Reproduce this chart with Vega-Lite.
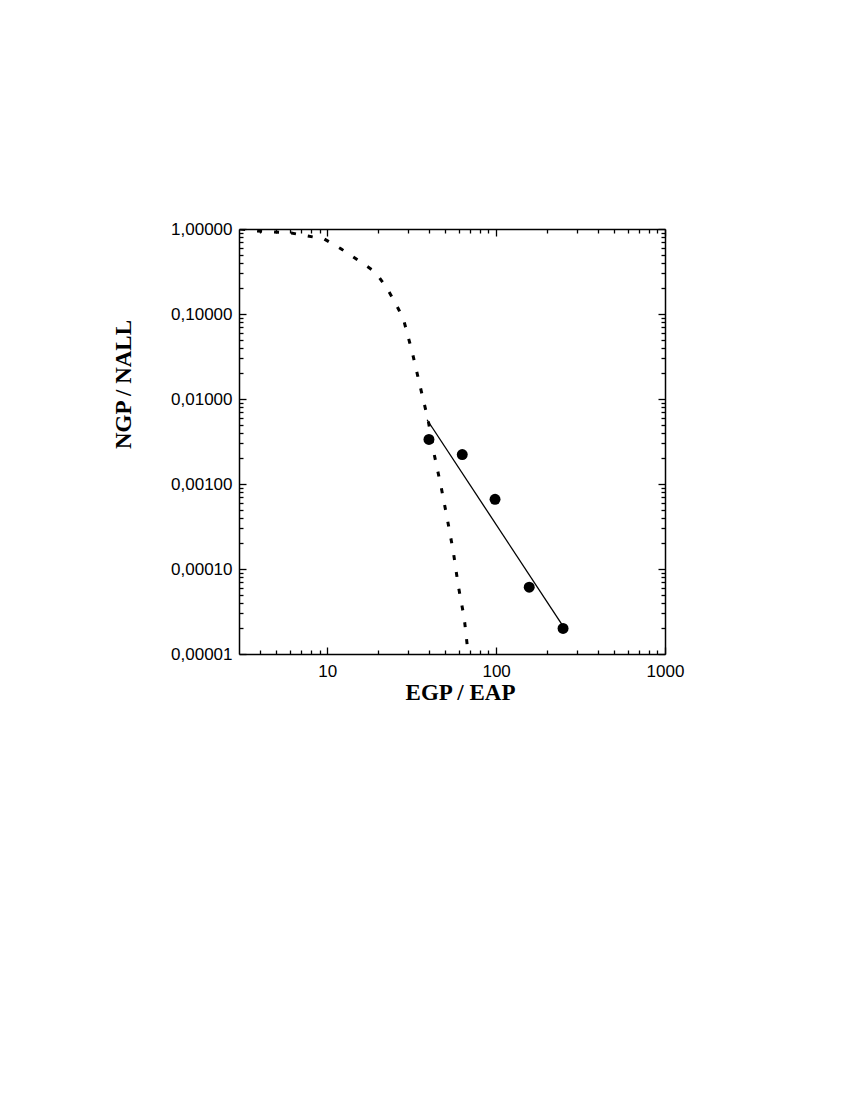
{
  "$schema": "https://vega.github.io/schema/vega-lite/v6.json",
  "autosize": {"type": "none"},
  "padding": {"left": 239, "top": 229, "right": 185, "bottom": 446},
  "width": 426,
  "height": 425,
  "background": "white",
  "config": {
    "view": {"stroke": null},
    "axis": {
      "domainColor": "black",
      "domainWidth": 1.5,
      "tickColor": "black",
      "tickWidth": 1.3,
      "grid": false,
      "labelFont": "Liberation Sans",
      "labelFontSize": 17,
      "labelColor": "black",
      "labelOverlap": false,
      "labelBound": false,
      "labelFlush": false,
      "titleFont": "Liberation Serif",
      "titleFontWeight": "bold",
      "titleFontSize": 23,
      "titleColor": "black"
    }
  },
  "datasets": {
    "points": [
      {"x": 40, "y": 0.00334},
      {"x": 63, "y": 0.00222},
      {"x": 98.5, "y": 0.00066},
      {"x": 157, "y": 0.000061},
      {"x": 249, "y": 0.00002}
    ],
    "fit": [
      {"x": 39, "y": 0.0057},
      {"x": 250, "y": 0.000021}
    ],
    "curve": [
      {"x": 3.05, "y": 1.0},
      {"x": 3.85, "y": 0.947},
      {"x": 6.12, "y": 0.897},
      {"x": 9.6, "y": 0.763},
      {"x": 12.1, "y": 0.582},
      {"x": 15.1, "y": 0.433},
      {"x": 19.2, "y": 0.313},
      {"x": 22.3, "y": 0.209},
      {"x": 25.3, "y": 0.135},
      {"x": 28.2, "y": 0.088},
      {"x": 31.8, "y": 0.036},
      {"x": 35.5, "y": 0.014},
      {"x": 39.6, "y": 0.00557},
      {"x": 43.0, "y": 0.00222},
      {"x": 47.3, "y": 0.00091},
      {"x": 51.3, "y": 0.000394},
      {"x": 55.7, "y": 0.000162},
      {"x": 59.6, "y": 0.0000645},
      {"x": 64.7, "y": 0.0000265},
      {"x": 68.3, "y": 0.00001}
    ]
  },
  "layer": [
    {
      "data": {"name": "points"},
      "mark": {"type": "point", "filled": true, "shape": "circle", "size": 120, "color": "black", "opacity": 1},
      "encoding": {
        "x": {
          "field": "x", "type": "quantitative",
          "scale": {"type": "log", "domain": [3, 1000], "nice": false},
          "axis": {
            "orient": "bottom",
            "title": "EGP / EAP",
            "titleX": 221, "titleY": 38,
            "titleBaseline": "middle", "titleAlign": "center",
            "values": [4,5,6,7,8,9,10,20,30,40,50,60,70,80,90,100,200,300,400,500,600,700,800,900,1000],
            "tickSize": {"condition": {"test": "abs(log(datum.value)/LN10 - round(log(datum.value)/LN10)) < 0.001", "value": -7}, "value": -4},
            "labelPadding": 16,
            "labelExpr": "abs(log(datum.value)/LN10 - round(log(datum.value)/LN10)) < 0.001 ? format(datum.value, 'd') : ''"
          }
        },
        "y": {
          "field": "y", "type": "quantitative",
          "scale": {"type": "log", "domain": [0.00001, 1], "nice": false},
          "axis": {
            "orient": "left",
            "title": "NGP / NALL",
            "titleX": -116, "titleY": 155,
            "titleAngle": -90,
            "titleBaseline": "middle", "titleAlign": "center",
            "values": [0.00001,0.00002,0.00003,0.00004,0.00005,0.00006,0.00007,0.00008,0.00009,0.0001,0.0002,0.0003,0.0004,0.0005,0.0006,0.0007,0.0008,0.0009,0.001,0.002,0.003,0.004,0.005,0.006,0.007,0.008,0.009,0.01,0.02,0.03,0.04,0.05,0.06,0.07,0.08,0.09,0.1,0.2,0.3,0.4,0.5,0.6,0.7,0.8,0.9,1],
            "tickSize": {"condition": {"test": "abs(log(datum.value)/LN10 - round(log(datum.value)/LN10)) < 0.001", "value": -7}, "value": -4},
            "labelPadding": 14,
            "labelExpr": "abs(log(datum.value)/LN10 - round(log(datum.value)/LN10)) < 0.001 ? replace(format(datum.value, '.5f'), '.', ',') : ''"
          }
        }
      }
    },
    {
      "data": {"name": "fit"},
      "mark": {"type": "line", "color": "black", "strokeWidth": 1.3},
      "encoding": {
        "x": {
          "field": "x", "type": "quantitative",
          "axis": {
            "orient": "top",
            "title": null,
            "labels": false,
            "values": [4,5,6,7,8,9,10,20,30,40,50,60,70,80,90,100,200,300,400,500,600,700,800,900,1000],
            "tickSize": {"condition": {"test": "abs(log(datum.value)/LN10 - round(log(datum.value)/LN10)) < 0.001", "value": -7}, "value": -4}
          }
        },
        "y": {
          "field": "y", "type": "quantitative",
          "axis": {
            "orient": "right",
            "title": null,
            "labels": false,
            "values": [0.00001,0.00002,0.00003,0.00004,0.00005,0.00006,0.00007,0.00008,0.00009,0.0001,0.0002,0.0003,0.0004,0.0005,0.0006,0.0007,0.0008,0.0009,0.001,0.002,0.003,0.004,0.005,0.006,0.007,0.008,0.009,0.01,0.02,0.03,0.04,0.05,0.06,0.07,0.08,0.09,0.1,0.2,0.3,0.4,0.5,0.6,0.7,0.8,0.9,1],
            "tickSize": {"condition": {"test": "abs(log(datum.value)/LN10 - round(log(datum.value)/LN10)) < 0.001", "value": -7}, "value": -4}
          }
        }
      }
    },
    {
      "data": {"name": "curve"},
      "mark": {"type": "line", "color": "black", "strokeWidth": 3, "strokeDash": [5, 12], "strokeCap": "butt", "clip": true},
      "encoding": {
        "x": {"field": "x", "type": "quantitative", "axis": null},
        "y": {"field": "y", "type": "quantitative", "axis": null}
      }
    }
  ],
  "resolve": {"axis": {"x": "independent", "y": "independent"}}
}
